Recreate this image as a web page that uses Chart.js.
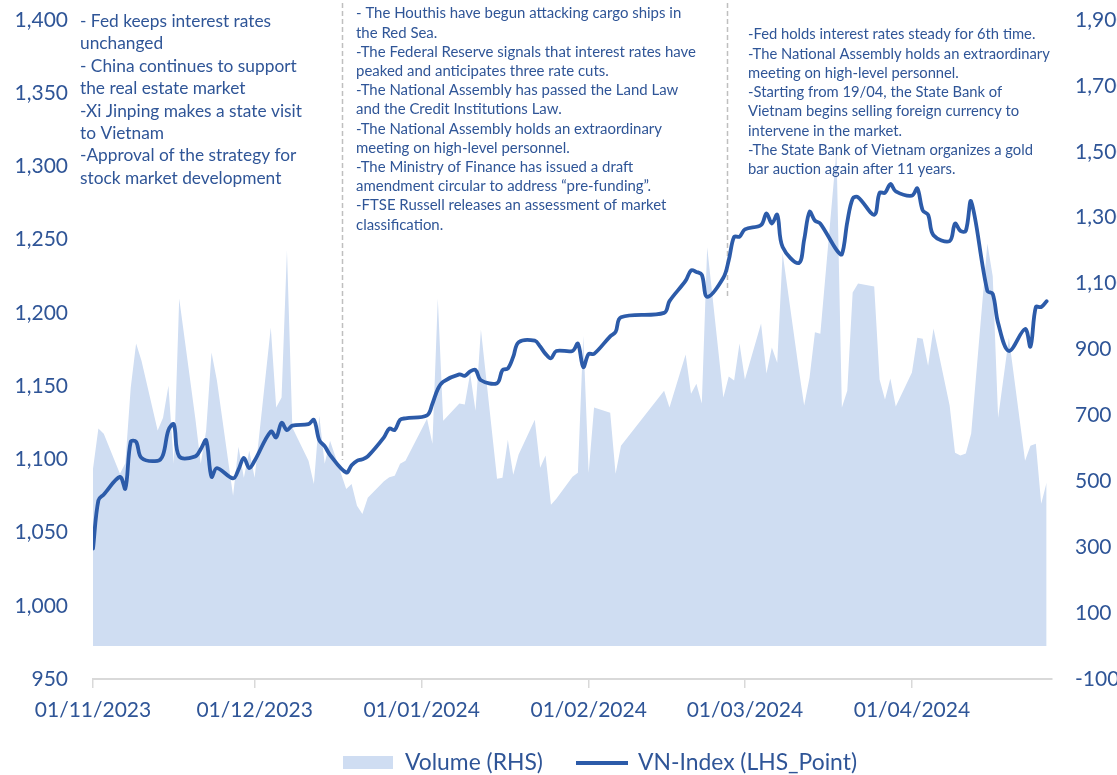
<!DOCTYPE html>
<html><head><meta charset="utf-8">
<script src="https://cdn.jsdelivr.net/npm/chart.js@4.4.1/dist/chart.umd.min.js"></script>
<style>html,body{margin:0;padding:0;background:#fff;overflow:hidden}</style>
</head><body>
<canvas id="c" width="1117" height="775" style="display:block;width:1117px;height:775px"></canvas>
<script>
// ---------- DATA ----------
const dates = [
 '2023-11-01','2023-11-02','2023-11-03','2023-11-06','2023-11-07','2023-11-08','2023-11-09','2023-11-10','2023-11-13','2023-11-14','2023-11-15','2023-11-16','2023-11-17','2023-11-20','2023-11-21','2023-11-22','2023-11-23','2023-11-24','2023-11-27','2023-11-28','2023-11-29','2023-11-30',
 '2023-12-01','2023-12-04','2023-12-05','2023-12-06','2023-12-07','2023-12-08','2023-12-11','2023-12-12','2023-12-13','2023-12-14','2023-12-15','2023-12-18','2023-12-19','2023-12-20','2023-12-21','2023-12-22','2023-12-25','2023-12-26','2023-12-27','2023-12-28','2023-12-29',
 '2024-01-02','2024-01-03','2024-01-04','2024-01-05','2024-01-08','2024-01-09','2024-01-10','2024-01-11','2024-01-12','2024-01-15','2024-01-16','2024-01-17','2024-01-18','2024-01-19','2024-01-22','2024-01-23','2024-01-24','2024-01-25','2024-01-26','2024-01-29','2024-01-30','2024-01-31',
 '2024-02-01','2024-02-02','2024-02-05','2024-02-06','2024-02-07','2024-02-15','2024-02-16','2024-02-19','2024-02-20','2024-02-21','2024-02-22','2024-02-23','2024-02-26','2024-02-27','2024-02-28','2024-02-29',
 '2024-03-01','2024-03-04','2024-03-05','2024-03-06','2024-03-07','2024-03-08','2024-03-11','2024-03-12','2024-03-13','2024-03-14','2024-03-15','2024-03-18','2024-03-19','2024-03-20','2024-03-21','2024-03-22','2024-03-25','2024-03-26','2024-03-27','2024-03-28','2024-03-29',
 '2024-04-01','2024-04-02','2024-04-03','2024-04-04','2024-04-05','2024-04-08','2024-04-09','2024-04-10','2024-04-11','2024-04-12','2024-04-15','2024-04-16','2024-04-17','2024-04-19','2024-04-22','2024-04-23','2024-04-24','2024-04-25','2024-04-26'
];
const volume = [
 538,660,644,523,555,784,918,866,654,693,790,553,1055,690,553,654,891,806,456,605,511,593,
 511,967,724,754,1201,663,562,492,699,553,623,477,492,426,401,450,500,512,517,553,562,
 690,614,1055,684,736,733,827,714,961,508,511,626,520,581,687,541,578,429,447,514,526,942,
 526,724,708,523,608,775,724,885,766,796,736,1210,754,818,806,918,
 809,979,827,906,860,1192,840,730,815,952,948,1505,724,775,1073,1100,1091,809,748,812,727,
 830,936,933,851,964,730,587,578,584,645,1222,1122,693,936,562,608,614,432,496
];
const vnIndex = [
 1039,1072,1076,1088,1080,1112,1112,1101,1099,1103,1120,1124,1102,1102,1107,1113,1088,1094,1087,1093,1101,1094,
 1099,1119,1115,1125,1120,1123,1124,1127,1113,1109,1103,1091,1096,1099,1100,1102,1115,1121,1120,1127,1128,
 1130,1138,1148,1153,1158,1157,1160,1161,1154,1152,1161,1162,1170,1180,1181,1177,1172,1169,1174,1174,1179,1163,
 1172,1172,1184,1187,1197,1200,1208,1222,1229,1228,1226,1211,1224,1236,1252,1252,
 1257,1260,1268,1261,1267,1245,1234,1250,1269,1263,1261,1243,1240,1262,1278,1279,1267,1282,1282,1288,1283,
 1280,1285,1270,1267,1253,1249,1261,1256,1256,1276,1215,1213,1193,1174,1189,1177,1204,1204,1208
];
const xTickDates = ['2023-11-01','2023-12-01','2024-01-01','2024-02-01','2024-03-01','2024-04-01'];
const xTickLabels = ['01/11/2023','01/12/2023','01/01/2024','01/02/2024','01/03/2024','01/04/2024'];
const seriesNames = ['Volume (RHS)','VN-Index (LHS_Point)'];
const notesLeft = [
 '- Fed keeps interest rates','unchanged','- China continues to support','the real estate market',
 '-Xi Jinping makes a state visit','to Vietnam','-Approval of the strategy for','stock market development'
];
const notesMid = [
 '- The Houthis have begun attacking cargo ships in','the Red Sea.',
 '-The Federal Reserve signals that interest rates have','peaked and anticipates three rate cuts.',
 '-The National Assembly has passed the Land Law','and the Credit Institutions Law.',
 '-The National Assembly holds an extraordinary','meeting on high-level personnel.',
 '-The Ministry of Finance has issued a draft','amendment circular to address \u201Cpre-funding\u201D.',
 '-FTSE Russell releases an assessment of market','classification.'
];
const notesRight = [
 '-Fed holds interest rates steady for 6th time.','-The National Assembly holds an extraordinary',
 'meeting on high-level personnel.','-Starting from 19/04, the State Bank of',
 'Vietnam begins selling foreign currency to','intervene in the market.',
 '-The State Bank of Vietnam organizes a gold','bar auction again after 11 years.'
];

// ---------- BUILD ----------
const FONT = 'Lato, "Open Sans", sans-serif';
const TXT = '#2F5597';
const LINE = '#2C5BA9';
const AREA = '#CFDDF2';
const t0 = Date.parse('2023-11-01T00:00:00Z');
const toDay = s => (Date.parse(s + 'T00:00:00Z') - t0) / 864e5;
const volData = dates.map((d, i) => ({x: toDay(d), y: volume[i]}));
const idxData = dates.map((d, i) => ({x: toDay(d), y: vnIndex[i]}));
const tickDays = xTickDates.map(toDay);

function fitFont(ctx, ref, target) {
  ctx.font = '20px ' + FONT;
  const w = ctx.measureText(ref).width;
  return 20 * target / w;
}
function drawBlock(ctx, lines, x, y0, step, ref, target) {
  const s = fitFont(ctx, ref, target);
  ctx.font = s.toFixed(2) + 'px ' + FONT;
  ctx.fillStyle = TXT; ctx.textAlign = 'left'; ctx.textBaseline = 'middle';
  lines.forEach((l, k) => ctx.fillText(l, x, y0 + k * step));
}

const overlay = {
  id: 'overlay',
  beforeDatasetsDraw(chart) {
    const ctx = chart.ctx, xs = chart.scales.x;
    ctx.save();
    ctx.strokeStyle = '#BFBFBF'; ctx.lineWidth = 1.5; ctx.setLineDash([5, 3]);
    [[46.2, 460], [117.75, 298]].forEach(([d, bottom]) => {
      const px = Math.round(xs.getPixelForValue(d)) + 0.5;
      ctx.beginPath(); ctx.moveTo(px, 3); ctx.lineTo(px, bottom); ctx.stroke();
    });
    ctx.restore();
  },
  afterDatasetsDraw(chart) {
    const ctx = chart.ctx;
    ctx.save();
    drawBlock(ctx, notesLeft, 80, 21.5, 22.4, notesLeft[4], 222);
    drawBlock(ctx, notesMid, 356, 13.5, 19.2, notesMid[2], 340);
    drawBlock(ctx, notesRight, 748, 34.5, 19.3, notesRight[1], 302);
    // legend
    ctx.fillStyle = AREA; ctx.fillRect(343, 756, 50, 13);
    ctx.strokeStyle = LINE; ctx.lineWidth = 3.8; ctx.lineCap = 'butt';
    ctx.beginPath(); ctx.moveTo(576, 763); ctx.lineTo(628, 763); ctx.stroke();
    const s = fitFont(ctx, seriesNames[1], 219);
    ctx.font = s.toFixed(2) + 'px ' + FONT;
    ctx.fillStyle = TXT; ctx.textBaseline = 'middle'; ctx.textAlign = 'left';
    ctx.fillText(seriesNames[0], 405, 763);
    ctx.fillText(seriesNames[1], 638, 763);
    ctx.restore();
  }
};

const tickFont = {family: FONT, size: 21};
const fixV = w => s => { s.width = w; s.paddingTop = 0; s.paddingBottom = 0; };
new Chart(document.getElementById('c'), {
  type: 'line',
  data: {
    datasets: [
      {label: seriesNames[1], data: idxData, yAxisID: 'y', borderColor: LINE, borderWidth: 3.8,
       pointRadius: 0, tension: 0.35, fill: false, order: 0, borderCapStyle: 'round', borderJoinStyle: 'round'},
      {label: seriesNames[0], data: volData, yAxisID: 'y1', borderColor: 'rgba(0,0,0,0)', borderWidth: 0,
       backgroundColor: AREA, pointRadius: 0, tension: 0, fill: 'origin', order: 1}
    ]
  },
  options: {
    responsive: false, animation: false, devicePixelRatio: 1,
    layout: {padding: {top: 20, bottom: 0, left: 0, right: 0}},
    plugins: {legend: {display: false}, tooltip: {enabled: false}},
    scales: {
      x: {
        type: 'linear', position: 'bottom', min: 0, max: 178,
        afterBuildTicks: s => { s.ticks = tickDays.map(v => ({value: v})); },
        afterFit: s => { s.height = 96; s.paddingLeft = 0; s.paddingRight = 0; },
        ticks: {callback: (v, i) => xTickLabels[i], font: tickFont, color: TXT, padding: 10,
                maxRotation: 0, autoSkip: false},
        grid: {display: true, drawOnChartArea: false, drawTicks: true, tickLength: 9,
               color: '#D9D9D9', lineWidth: 1.5},
        border: {display: true, color: '#D9D9D9', width: 2}
      },
      y: {
        position: 'left', min: 950, max: 1400,
        afterFit: fixV(93),
        ticks: {stepSize: 50, callback: v => v.toLocaleString('en-US'), font: tickFont, color: TXT, padding: 25},
        grid: {display: false, drawTicks: false}, border: {display: false}
      },
      y1: {
        position: 'right', min: -100, max: 1900,
        afterFit: fixV(65),
        ticks: {stepSize: 200, callback: v => v.toLocaleString('en-US'), font: tickFont, color: TXT, padding: 23},
        grid: {display: false, drawTicks: false}, border: {display: false}
      }
    }
  },
  plugins: [overlay]
});
</script>
</body></html>
